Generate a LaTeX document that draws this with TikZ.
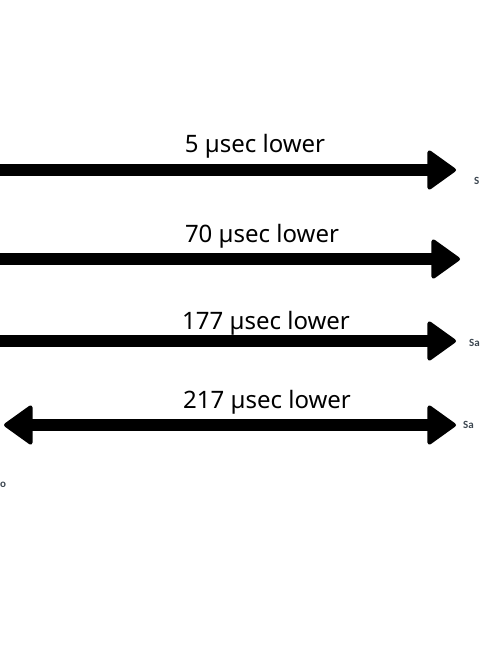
\documentclass[tikz,border=0pt]{standalone}
\usepackage{fontspec}
\setmainfont{Noto Sans}
\newfontfamily\tagfont{Carlito}
\usetikzlibrary{arrows.meta}
\definecolor{tagcol}{HTML}{3C4650}
\tikzset{
  >={Triangle[length=30pt,width=42pt,round,line width=4pt]},
  gaparrow/.style={line width=12pt},
  gaplabel/.style={font=\fontsize{24}{28}\selectfont, inner sep=0pt},
  sidetag/.style={font=\tagfont\bfseries\fontsize{11}{13}\selectfont, text=tagcol, inner sep=0pt}
}
\begin{document}
\begin{tikzpicture}[x=1pt,y=-1pt]
\useasboundingbox (0,0) rectangle (480,650);
\clip (0,0) rectangle (480,650);
\coordinate (a1) at (-20,170);
\coordinate (b1) at (456,170);
\coordinate (a2) at (-20,259);
\coordinate (b2) at (460,259);
\coordinate (a3) at (-20,341);
\coordinate (b3) at (456,341);
\coordinate (a4) at (4,425);
\coordinate (b4) at (456,425);
\draw[gaparrow, ->] (a1) -- (b1);
\draw[gaparrow, ->] (a2) -- (b2);
\draw[gaparrow, ->] (a3) -- (b3);
\draw[gaparrow, <->] (a4) -- (b4);
\node[gaplabel] (l1) at (255,146) {5 µsec lower};
\node[gaplabel] (l2) at (262,236) {70 µsec lower};
\node[gaplabel] (l3) at (266,323) {177 µsec lower};
\node[gaplabel] (l4) at (267,402) {217 µsec lower};
\node[sidetag, anchor=west] (t1) at (474,181) {S};
\node[sidetag, anchor=west] (t3) at (469,343) {Sa};
\node[sidetag, anchor=west] (t4) at (463,425) {Sa};
\node[sidetag, anchor=west] (t5) at (0,485) {o};
\end{tikzpicture}
\end{document}
